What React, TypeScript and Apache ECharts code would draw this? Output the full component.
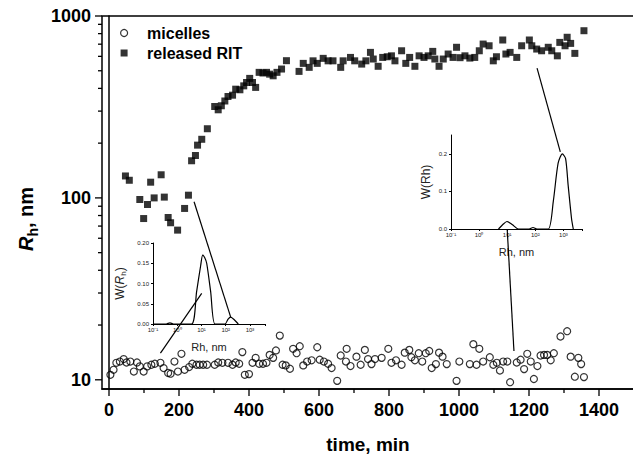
import React, { useEffect, useRef } from "react";
import * as echarts from "echarts";

const FONT = '"Liberation Sans", Arial, Helvetica, sans-serif';

// main axes
const X_MIN = -20;
const X_MAX = 1500;
const Y_MIN = 8.9;
const Y_MAX = 1000;
const xTickLabels = [0, 200, 400, 600, 800, 1000, 1200, 1400];
const xMinorTicks = [100, 300, 500, 700, 900, 1100, 1300];
const yTickLabels = [10, 100, 1000];
const yMinorTicks = [20, 30, 40, 50, 60, 70, 80, 90, 200, 300, 400, 500, 600, 700, 800, 900];

// [time, min ; Rh, nm]
const micelles: [number, number][] = [
  [4, 10.65], [13, 11.35], [21, 12.4], [31, 12.6], [42, 13.0], [50, 12.45], [61, 12.6], [71, 11.1],
  [80, 12.45], [88, 11.85], [99, 11.1], [109, 11.85], [121, 12.1], [131, 12.25], [147, 12.4], [156, 11.6],
  [169, 10.9], [176, 10.8], [187, 12.6], [197, 11.1], [207, 13.9], [216, 11.35], [229, 11.75], [238, 12.25],
  [250, 12.1], [259, 12.1], [269, 12.1], [280, 12.1], [302, 12.1], [312, 12.45], [324, 12.4], [340, 12.4],
  [353, 12.1], [362, 12.45], [372, 12.25], [381, 14.2], [388, 10.65], [400, 10.75], [410, 12.4], [419, 13.2],
  [429, 12.25], [440, 12.25], [450, 12.4], [459, 13.7], [469, 13.2], [477, 14.5], [488, 17.5], [496, 12.1],
  [505, 12.0], [517, 11.5], [526, 14.8], [536, 14.0], [545, 15.3], [555, 12.0], [566, 12.6], [579, 12.8],
  [595, 15.1], [602, 12.9], [614, 12.6], [626, 12.25], [636, 11.6], [652, 9.87], [662, 13.6], [677, 12.6],
  [679, 14.8], [690, 11.9], [707, 13.4], [719, 12.1], [731, 14.6], [740, 13.0], [750, 12.2], [760, 13.0],
  [779, 13.2], [798, 14.8], [807, 12.4], [820, 12.8], [836, 12.1], [845, 14.1], [858, 14.6], [864, 13.3],
  [874, 12.8], [885, 14.0], [895, 12.6], [905, 14.0], [915, 14.4], [922, 11.6], [934, 12.2], [943, 14.1],
  [953, 13.4], [965, 12.2], [993, 9.87], [1001, 12.6], [1031, 12.2], [1041, 15.7], [1050, 12.1], [1058, 14.8],
  [1069, 12.6], [1088, 13.3], [1098, 12.1], [1108, 12.4], [1117, 11.25], [1126, 12.6], [1138, 12.6], [1146, 9.7],
  [1165, 12.45], [1176, 12.9], [1186, 11.45], [1195, 13.9], [1205, 12.6], [1214, 10.1], [1224, 11.9], [1233, 13.6],
  [1243, 13.7], [1252, 13.7], [1262, 12.8], [1271, 14.0], [1290, 17.3], [1309, 18.5], [1319, 13.4], [1331, 10.4],
  [1341, 13.2], [1349, 12.2], [1357, 10.35],
];

const releasedRIT: [number, number][] = [
  [47, 132], [58, 125], [88, 98], [99, 77], [110, 92], [119, 122], [129, 100], [149, 134],
  [158, 101], [169, 78], [176, 73], [196, 66.5], [216, 87.5], [227, 103.5], [236, 160], [247, 171],
  [253, 195], [265, 210], [281, 240], [302, 318], [312, 305], [321, 321], [331, 341], [340, 361],
  [353, 367], [362, 396], [374, 393], [385, 413], [393, 431], [402, 454], [410, 431], [419, 405],
  [429, 490], [440, 486], [450, 490], [459, 479], [469, 469], [480, 490], [493, 511], [507, 568],
  [543, 496], [555, 549], [572, 522], [583, 567], [595, 549], [612, 585], [626, 567], [640, 567],
  [662, 522], [669, 567], [690, 592], [702, 567], [722, 544], [734, 567], [747, 631], [755, 580],
  [769, 529], [782, 592], [795, 597], [807, 604], [817, 567], [836, 644], [848, 549], [859, 592],
  [874, 529], [886, 604], [900, 592], [912, 604], [925, 639], [931, 580], [943, 529], [955, 580],
  [969, 618], [983, 592], [993, 673], [1003, 590], [1017, 604], [1031, 587], [1045, 592], [1058, 644],
  [1069, 701], [1086, 686], [1098, 567], [1107, 597], [1125, 738], [1134, 618], [1146, 631], [1165, 592],
  [1179, 686], [1201, 738], [1208, 686], [1222, 658], [1236, 644], [1255, 673], [1265, 644], [1281, 604],
  [1288, 716], [1303, 686], [1309, 764], [1319, 707], [1331, 623], [1357, 830],
];

// insets: size distributions [Rh, nm ; W(Rh)]
const inset1Dist: [number, number][] = [
  [0.1, 0], [0.35, 0], [0.5, 0.003], [0.7, 0], [3.9, 0], [6.3, 0.08], [9.3, 0.145], [11.2, 0.17],
  [13.5, 0.164], [16.4, 0.15], [23.9, 0.08], [36, 0], [93, 0], [125, 0.012], [160, 0.017], [230, 0.01], [330, 0],
];
const inset2Dist: [number, number][] = [
  [4.9, 0], [7, 0.012], [9.8, 0.02], [15, 0.012], [25, 0], [60, 0], [83, 0.004], [115, 0], [290, 0],
  [440, 0.075], [650, 0.175], [920, 0.2], [1200, 0.187], [1480, 0.116], [1950, 0.028], [2250, 0],
];
const inset1XMax = 4170;
const inset2XMax = 4600;
const inset2YTicks = [0, 0.1, 0.2];

// connector lines: [grid, x, y] -> [grid, x, y]
const connectors: [number, number, number, number, number, number][] = [
  [0, 243, 95.3, 1, 160, 0.017],
  [0, 147, 14.0, 1, 10.2, 0.0755],
  [0, 1223, 517, 2, 777, 0.205],
  [2, 10, 0, 0, 1157, 14.4],
];

const SUP: Record<string, string> = { "-": "⁻", "0": "⁰", "1": "¹", "2": "²", "3": "³", "4": "⁴" };
const isPow10 = (v: number) => {
  const l = Math.log10(v);
  return Math.abs(l - Math.round(l)) < 1e-6;
};
const powLabel = (v: number) => {
  if (!isPow10(v)) return "";
  const e = String(Math.round(Math.log10(v)));
  return "10" + e.split("").map((c) => SUP[c] || c).join("");
};

export default function App() {
  const ref = useRef<HTMLDivElement>(null);
  useEffect(() => {
    const chart = echarts.init(ref.current!, null, { renderer: "svg" });
    const insetText = { fontFamily: FONT, color: "#222", fontSize: 6 };
    const tickRender = (dir: "x" | "y") => (params: any, api: any) => {
      const p = api.coord([api.value(0), api.value(1)]);
      const len = api.value(2) ? 7 : 4;
      const shape =
        dir === "y"
          ? { x1: p[0] - len, y1: p[1], x2: p[0], y2: p[1] }
          : { x1: p[0], y1: p[1], x2: p[0], y2: p[1] + len };
      return { type: "line", shape, style: { stroke: "#000", lineWidth: 1.3 } };
    };
    const option: any = {
      animation: false,
      backgroundColor: "#fff",
      grid: [
        { left: 102, top: 16, width: 532, height: 373, outerBoundsMode: "none", containLabel: false, show: true, borderColor: "#000", borderWidth: 1.5, backgroundColor: "transparent" },
        { left: 153, top: 243, width: 112, height: 81, outerBoundsMode: "none", containLabel: false },
        { left: 451, top: 135, width: 131, height: 94, outerBoundsMode: "none", containLabel: false },
      ],
      legend: {
        data: [
          { name: "micelles", icon: "circle", itemStyle: { color: "rgba(255,255,255,0)", borderColor: "#000", borderWidth: 1.2 } },
          { name: "released RIT", icon: "path://M0 0H10V10H0Z", itemStyle: { color: "#000" } },
        ],
        orient: "vertical",
        left: 115,
        top: 20,
        itemWidth: 36,
        itemHeight: 7,
        itemGap: 4,
        symbolKeepAspect: true,
        selectedMode: false,
        textStyle: { fontFamily: FONT, fontWeight: "bold", fontSize: 16, color: "#000", lineHeight: 16 },
      },
      xAxis: [
        {
          gridIndex: 0, type: "value", min: X_MIN, max: X_MAX, splitNumber: 7,
          axisLine: { lineStyle: { color: "#000", width: 1.5 } },
          axisTick: { show: false },
          splitLine: { show: false },
          axisLabel: {
            customValues: xTickLabels,
            formatter: (v: number) => (xTickLabels.includes(v) ? String(v) : ""),
            margin: 12, fontFamily: FONT, fontWeight: "bold", fontSize: 18, color: "#000",
          },
          name: "time, min", nameLocation: "middle", nameGap: 46,
          nameTextStyle: { fontFamily: FONT, fontWeight: "bold", fontSize: 19, color: "#000" },
        },
        {
          gridIndex: 1, type: "log", logBase: 10, min: 0.1, max: inset1XMax,
          axisLine: { lineStyle: { color: "#000", width: 1 } },
          axisTick: { length: 2, lineStyle: { color: "#000" } },
          splitLine: { show: false },
          axisLabel: { ...insetText, margin: 3, formatter: powLabel },
          name: "Rh, nm", nameLocation: "middle", nameGap: 17,
          nameTextStyle: { fontFamily: FONT, fontSize: 11, color: "#222" },
        },
        {
          gridIndex: 2, type: "log", logBase: 10, min: 0.1, max: inset2XMax,
          axisLine: { lineStyle: { color: "#000", width: 1 } },
          axisTick: { length: 2, lineStyle: { color: "#000" } },
          splitLine: { show: false },
          axisLabel: { ...insetText, margin: 3, formatter: powLabel },
          name: "Rh, nm", nameLocation: "middle", nameGap: 17,
          nameTextStyle: { fontFamily: FONT, fontSize: 11, color: "#222" },
        },
      ],
      yAxis: [
        {
          gridIndex: 0, type: "log", logBase: 10, min: Y_MIN, max: Y_MAX,
          axisLine: { show: true, lineStyle: { color: "#000", width: 1.5 } },
          axisTick: { show: false },
          splitLine: { show: false },
          axisLabel: {
            formatter: (v: number) => (isPow10(v) && yTickLabels.some((t) => Math.abs(t - v) < 1e-6) ? String(Math.round(v)) : ""),
            margin: 11, fontFamily: FONT, fontWeight: "bold", fontSize: 18, color: "#000",
          },
        },
        {
          gridIndex: 1, type: "value", min: 0, max: 0.2, interval: 0.05,
          axisLine: { show: true, lineStyle: { color: "#000", width: 1 } },
          axisTick: { show: true, length: 2, lineStyle: { color: "#000" } },
          splitLine: { show: false },
          axisLabel: { ...insetText, margin: 4, formatter: (v: number) => v.toFixed(2) },
          name: "{a|W(}{r|R}{s|h}{a|)}", nameLocation: "middle", nameGap: 26, nameRotate: 90,
          nameTextStyle: {
            fontFamily: FONT, fontSize: 12, color: "#222",
            rich: {
              a: { fontFamily: FONT, fontSize: 12, color: "#222", lineHeight: 15 },
              r: { fontFamily: FONT, fontSize: 12, color: "#222", fontStyle: "italic", lineHeight: 15 },
              s: { fontFamily: FONT, fontSize: 8, color: "#222", verticalAlign: "bottom", lineHeight: 8 },
            },
          },
        },
        {
          gridIndex: 2, type: "value", min: 0, max: 0.25, interval: 0.1,
          axisLine: { show: true, lineStyle: { color: "#000", width: 1 } },
          axisTick: { show: true, length: 2, customValues: inset2YTicks, lineStyle: { color: "#000" } },
          splitLine: { show: false },
          axisLabel: {
            ...insetText, margin: 4, customValues: inset2YTicks,
            formatter: (v: number) => (inset2YTicks.some((t) => Math.abs(t - v) < 1e-9) ? v.toFixed(1) : ""),
          },
          name: "W(Rh)", nameLocation: "middle", nameGap: 19, nameRotate: 90,
          nameTextStyle: { fontFamily: FONT, fontSize: 12, color: "#222" },
        },
      ],
      series: [
        {
          name: "micelles", type: "scatter", xAxisIndex: 0, yAxisIndex: 0,
          data: micelles, symbol: "circle", symbolSize: 7,
          itemStyle: { color: "rgba(255,255,255,0)", borderColor: "#000", borderWidth: 1.2 },
          z: 4,
        },
        {
          name: "released RIT", type: "scatter", xAxisIndex: 0, yAxisIndex: 0,
          data: releasedRIT, symbol: "rect", symbolSize: 7,
          itemStyle: { color: "#000" },
          z: 4,
        },
        {
          name: "dist1", type: "line", xAxisIndex: 1, yAxisIndex: 1, data: inset1Dist,
          showSymbol: false, smooth: 0.25, lineStyle: { color: "#000", width: 1.2 }, z: 5,
        },
        {
          name: "dist2", type: "line", xAxisIndex: 2, yAxisIndex: 2, data: inset2Dist,
          showSymbol: false, smooth: 0.25, lineStyle: { color: "#000", width: 1.2 }, z: 5,
        },
        {
          name: "yTicks", type: "custom", xAxisIndex: 0, yAxisIndex: 0, silent: true, clip: false,
          data: [...yTickLabels.map((v) => [X_MIN, v, 1]), ...yMinorTicks.map((v) => [X_MIN, v, 0])],
          renderItem: tickRender("y"), z: 6,
        },
        {
          name: "xTicks", type: "custom", xAxisIndex: 0, yAxisIndex: 0, silent: true, clip: false,
          data: [...xTickLabels.map((v) => [v, Y_MIN, 1]), ...xMinorTicks.map((v) => [v, Y_MIN, 0])],
          renderItem: tickRender("x"), z: 6,
        },
      ],
    };
    chart.setOption(option);

    const toPx = (g: number, x: number, y: number) =>
      chart.convertToPixel({ gridIndex: g } as any, [x, y]) as number[];
    const lines = connectors.map((c, i) => {
      const a = toPx(c[0], c[1], c[2]);
      const b = toPx(c[3], c[4], c[5]);
      return {
        id: "conn" + i, type: "line", z: 50,
        shape: { x1: a[0], y1: a[1], x2: b[0], y2: b[1] },
        style: { stroke: "#000", lineWidth: 1.2 },
      };
    });
    chart.setOption({
      graphic: [
        {
          id: "ytitle", type: "text", x: 26, y: 219, rotation: Math.PI / 2, z: 50,
          style: {
            text: "{r|R}{s|h}{n|, nm}",
            align: "center", verticalAlign: "middle",
            fontFamily: FONT, fontWeight: "bold", fontSize: 20, fill: "#000",
            rich: {
              r: { fontFamily: FONT, fontWeight: "bold", fontStyle: "italic", fontSize: 20, lineHeight: 28 },
              s: { fontFamily: FONT, fontWeight: "bold", fontSize: 14, lineHeight: 14, verticalAlign: "bottom" },
              n: { fontFamily: FONT, fontWeight: "bold", fontSize: 20, lineHeight: 28 },
            },
          },
        },
        ...lines,
      ],
    });
    return () => chart.dispose();
  }, []);
  return (
    <div
      ref={ref}
      style={{ position: "absolute", left: 0, top: 0, width: 633, height: 454, background: "#fff" }}
    />
  );
}
